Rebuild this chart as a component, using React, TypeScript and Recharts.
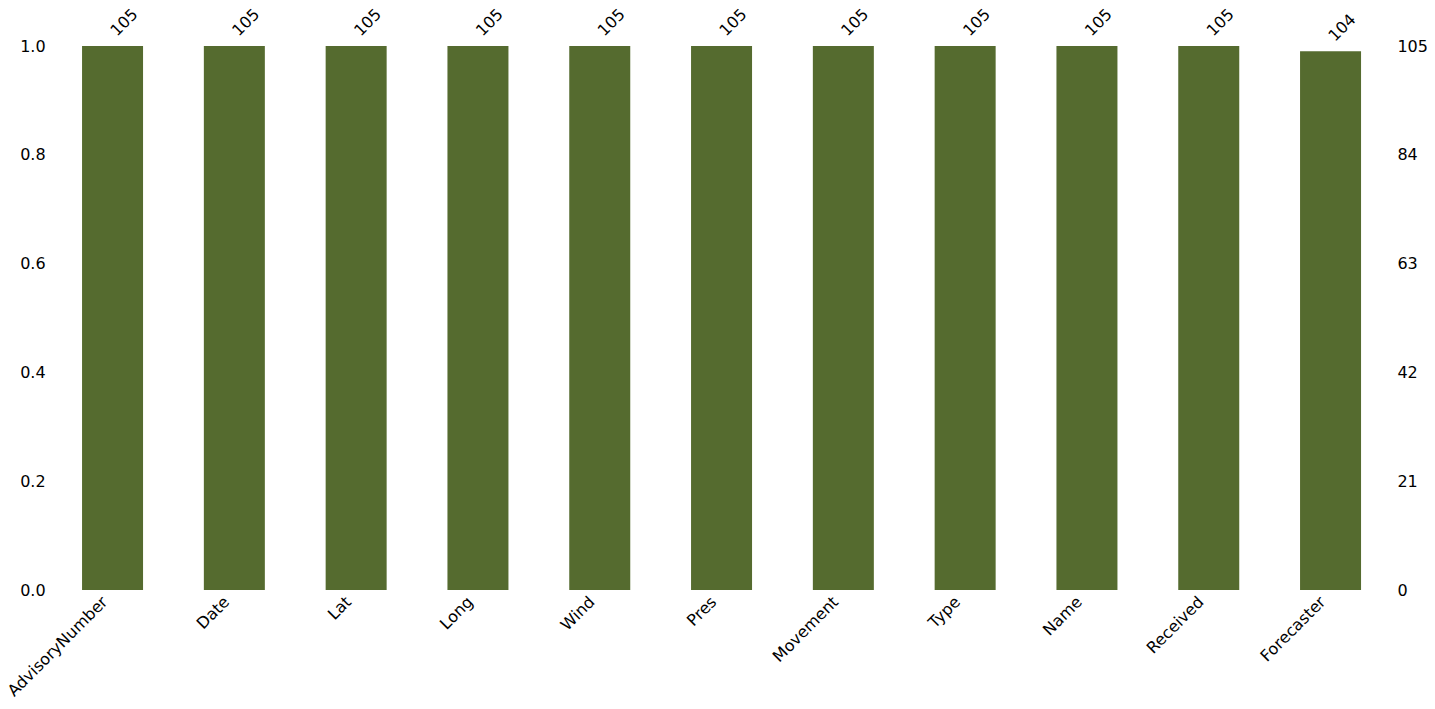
import React from "react";
import { Bar, ComposedChart, Line, XAxis, YAxis } from "recharts";

const columns = ["AdvisoryNumber", "Date", "Lat", "Long", "Wind", "Pres", "Movement", "Type", "Name", "Received", "Forecaster"];
const counts = [105, 105, 105, 105, 105, 105, 105, 105, 105, 105, 104];
const totalRows = 105;
const leftTicks = [0, 0.2, 0.4, 0.6, 0.8, 1.0];
const rightTicks = [0, 21, 42, 63, 84, 105];

const data = columns.map((name, i) => ({ name, count: counts[i], share: counts[i] / totalRows }));

const font = "DejaVu Sans, sans-serif";
const color = "#556b2f";
const fontSize = 16;

function CategoryTick({ x, y, payload }: any) {
  return (
    <g transform={`translate(${x - 4},${y + 5}) rotate(-45)`}>
      <text x={0} y={0} textAnchor="end" fontSize={fontSize} fontFamily={font} fill="#000">
        {payload.value}
      </text>
    </g>
  );
}

function CountLabel({ x, y, width, value }: any) {
  const cx = x + width / 2 + 4.5;
  const cy = y - 9;
  return (
    <g transform={`translate(${cx},${cy}) rotate(-45)`}>
      <text x={0} y={0} textAnchor="start" fontSize={fontSize} fontFamily={font} fill="#000">
        {value}
      </text>
    </g>
  );
}

export default function App() {
  const tick = { fontSize, fontFamily: font, fill: "#000" };
  return (
    <div style={{ position: "absolute", left: 0, top: 0, width: 1435, height: 709, background: "#fff" }}>
      <ComposedChart width={1435} height={709} data={data} margin={{ top: 46, right: 0, bottom: 0, left: 0 }} barCategoryGap="25%">
        <XAxis
          dataKey="name"
          xAxisId="bottom"
          axisLine={false}
          tickLine={false}
          interval={0}
          height={119}
          tick={<CategoryTick />}
        />
        <YAxis
          yAxisId="left"
          orientation="left"
          type="number"
          domain={[0, 1]}
          ticks={leftTicks}
          tickFormatter={(v: number) => v.toFixed(1)}
          axisLine={false}
          tickLine={false}
          tickSize={4}
          tickMargin={2}
          width={51.6}
          tick={tick}
        />
        <YAxis
          yAxisId="right"
          orientation="right"
          type="number"
          domain={[0, totalRows]}
          ticks={rightTicks}
          axisLine={false}
          tickLine={false}
          tickSize={4}
          tickMargin={2}
          width={43.6}
          tick={tick}
        />
        <Bar
          dataKey="count"
          xAxisId="bottom"
          yAxisId="right"
          fill={color}
          isAnimationActive={false}
          label={<CountLabel />}
        />
        <Line
          dataKey="share"
          xAxisId="bottom"
          yAxisId="left"
          stroke="none"
          dot={false}
          activeDot={false}
          isAnimationActive={false}
        />
      </ComposedChart>
    </div>
  );
}
